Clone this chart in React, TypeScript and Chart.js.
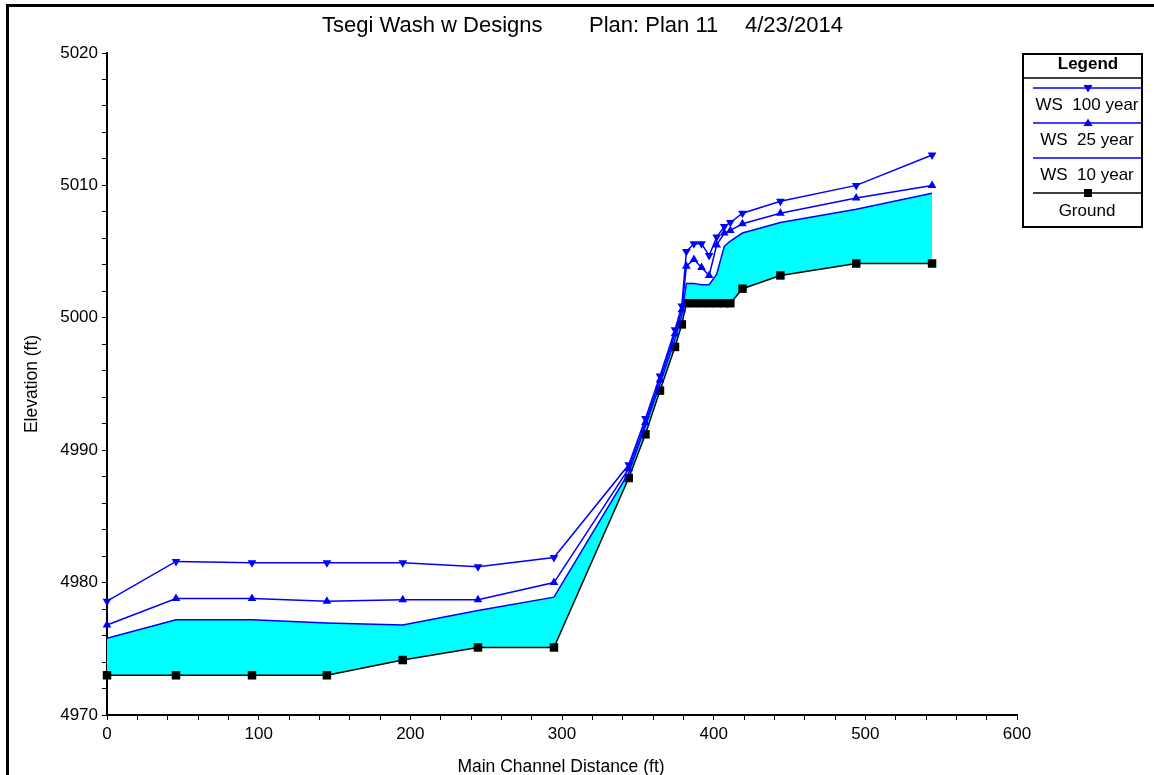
import React, { useEffect, useRef } from 'react';
import { Chart, registerables } from 'chart.js';

Chart.register(...registerables);

// Main channel distance (ft) of each cross-section
const distance = [0, 45.5, 95.6, 145, 195, 244.6, 294.7, 344, 355, 364.6, 374.5, 379, 382, 387, 392, 397, 402, 407, 411, 419, 444, 494, 544];
// Elevations (ft)
const ws100 = [4978.6, 4981.6, 4981.5, 4981.5, 4981.5, 4981.2, 4981.9, 4988.9, 4992.4, 4995.6, 4999.1, 5000.9, 5005.0, 5005.6, 5005.6, 5004.7, 5006.1, 5006.9, 5007.2, 5007.9, 5008.8, 5010.0, 5012.3];
const ws25 = [4976.8, 4978.8, 4978.8, 4978.6, 4978.7, 4978.7, 4980.0, 4988.6, 4992.1, 4995.3, 4998.8, 5000.6, 5003.9, 5004.4, 5003.8, 5003.2, 5005.5, 5006.4, 5006.6, 5007.1, 5007.9, 5009.05, 5010.0];
const ws10 = [4975.8, 4977.2, 4977.2, 4976.95, 4976.8, 4977.9, 4978.9, 4988.3, 4991.8, 4995.0, 4998.4, 5000.2, 5002.6, 5002.6, 5002.5, 5002.5, 5003.3, 5005.4, 5005.8, 5006.4, 5007.2, 5008.2, 5009.4];
const ground = [4973.0, 4973.0, 4973.0, 4973.0, 4974.15, 4975.1, 4975.1, 4987.9, 4991.2, 4994.5, 4997.8, 4999.5, 5001.1, 5001.1, 5001.1, 5001.1, 5001.1, 5001.1, 5001.1, 5002.2, 5003.2, 5004.1, 5004.1];

const titleParts = ['Tsegi Wash w Designs', 'Plan: Plan 11', '4/23/2014'];
const xTitle = 'Main Channel Distance (ft)';
const yTitle = 'Elevation (ft)';
const legendTitle = 'Legend';
const seriesLabels = ['WS  100 year', 'WS  25 year', 'WS  10 year', 'Ground'];

const FONT = '"Liberation Sans", Arial, sans-serif';
const BLUE = '#0000ff';
const CYAN = '#00ffff';

const decor = {
  id: 'decor',
  afterDraw(chart: any) {
    const ctx: CanvasRenderingContext2D = chart.ctx;
    ctx.save();
    // window frame
    ctx.fillStyle = '#000';
    ctx.fillRect(6, 4, 1160, 3);
    ctx.fillRect(6, 4, 3, 780);

    // title
    ctx.fillStyle = '#000';
    ctx.textBaseline = 'middle';
    ctx.textAlign = 'left';
    ctx.font = '22px ' + FONT;
    ctx.fillText(titleParts[0], 322, 26);
    ctx.fillText(titleParts[1], 589, 26);
    ctx.fillText(titleParts[2], 745, 26);

    // axis titles
    ctx.font = '17.5px ' + FONT;
    ctx.textAlign = 'center';
    ctx.fillText(xTitle, 561, 767);
    ctx.save();
    ctx.translate(32, 384);
    ctx.rotate(-Math.PI / 2);
    ctx.fillText(yTitle, 0, 0);
    ctx.restore();

    // legend box
    const L = 1023, R = 1142, T = 54, B = 227;
    ctx.strokeStyle = '#000';
    ctx.lineWidth = 2;
    ctx.strokeRect(L, T, R - L, B - T);
    ctx.lineWidth = 1.5;
    ctx.beginPath();
    ctx.moveTo(L, 78);
    ctx.lineTo(R, 78);
    ctx.stroke();
    ctx.font = 'bold 17px ' + FONT;
    ctx.fillText(legendTitle, 1088, 64);

    const entries = [
      { color: BLUE, marker: 'down', lineY: 88, textY: 105 },
      { color: BLUE, marker: 'up', lineY: 123, textY: 140 },
      { color: BLUE, marker: 'none', lineY: 158, textY: 175 },
      { color: '#000', marker: 'square', lineY: 193, textY: 211 },
    ];
    ctx.font = '17px ' + FONT;
    entries.forEach((e, i) => {
      ctx.strokeStyle = e.color;
      ctx.fillStyle = e.color;
      ctx.lineWidth = 1.5;
      ctx.beginPath();
      ctx.moveTo(1033, e.lineY);
      ctx.lineTo(1141, e.lineY);
      ctx.stroke();
      const mx = 1088, my = e.lineY;
      if (e.marker === 'down') {
        ctx.beginPath();
        ctx.moveTo(mx - 4.5, my - 3);
        ctx.lineTo(mx + 4.5, my - 3);
        ctx.lineTo(mx, my + 4.5);
        ctx.closePath();
        ctx.fill();
      } else if (e.marker === 'up') {
        ctx.beginPath();
        ctx.moveTo(mx - 4.5, my + 3);
        ctx.lineTo(mx + 4.5, my + 3);
        ctx.lineTo(mx, my - 4.5);
        ctx.closePath();
        ctx.fill();
      } else if (e.marker === 'square') {
        ctx.fillRect(mx - 4, my - 4, 8, 8);
      }
      ctx.fillStyle = '#000';
      ctx.fillText(seriesLabels[i], 1087, e.textY);
    });
    ctx.restore();
  },
};

export default function App() {
  const ref = useRef<HTMLCanvasElement | null>(null);

  useEffect(() => {
    if (!ref.current) return;
    const pts = (ys: number[]) => distance.map((x, i) => ({ x, y: ys[i] }));
    const tickFont = { family: FONT, size: 17 };
    const chart = new Chart(ref.current, {
      type: 'line',
      data: {
        datasets: [
          {
            label: seriesLabels[0],
            data: pts(ws100),
            borderColor: BLUE,
            backgroundColor: BLUE,
            borderWidth: 1.5,
            pointStyle: 'triangle',
            rotation: 180,
            pointRadius: 5,
            pointBorderWidth: 0,
            fill: false,
            clip: false,
          },
          {
            label: seriesLabels[1],
            data: pts(ws25),
            borderColor: BLUE,
            backgroundColor: BLUE,
            borderWidth: 1.5,
            pointStyle: 'triangle',
            pointRadius: 5,
            pointBorderWidth: 0,
            fill: false,
            clip: false,
          },
          {
            label: seriesLabels[2],
            data: pts(ws10),
            borderColor: BLUE,
            backgroundColor: CYAN,
            borderWidth: 1.5,
            pointRadius: 0,
            fill: '+1',
            clip: false,
          },
          {
            label: seriesLabels[3],
            data: pts(ground),
            borderColor: '#000',
            backgroundColor: '#000',
            borderWidth: 1.5,
            pointStyle: 'rect',
            pointRadius: 6,
            pointBorderWidth: 0,
            fill: false,
            clip: false,
          },
        ] as any,
      },
      options: {
        responsive: false,
        animation: false,
        events: [],
        layout: { padding: { left: 0, right: 137, top: 53, bottom: 0 } },
        elements: { line: { tension: 0 } },
        plugins: {
          legend: { display: false },
          title: { display: false },
          tooltip: { enabled: false },
          filler: { drawTime: 'beforeDatasetsDraw' },
        } as any,
        scales: {
          x: {
            type: 'linear',
            min: 0,
            max: 600,
            afterFit: (s: any) => { s.height = 60; },
            ticks: {
              stepSize: 20,
              autoSkip: false,
              maxRotation: 0,
              padding: 4,
              color: '#000',
              font: tickFont,
              callback: (v: any) => (Math.round(v) % 100 === 0 ? String(Math.round(v)) : ''),
            },
            grid: { display: true, drawOnChartArea: false, drawTicks: true, tickLength: 5, color: '#000', lineWidth: 1 },
            border: { display: true, color: '#000', width: 2 },
          },
          y: {
            type: 'linear',
            min: 4970,
            max: 5020,
            afterFit: (s: any) => { s.width = 107; },
            ticks: {
              stepSize: 2,
              autoSkip: false,
              padding: 4,
              color: '#000',
              font: tickFont,
              callback: (v: any) => (Math.round(v) % 10 === 0 ? String(Math.round(v)) : ''),
            },
            grid: { display: true, drawOnChartArea: false, drawTicks: true, tickLength: 5, color: '#000', lineWidth: 1 },
            border: { display: true, color: '#000', width: 2 },
          },
        },
      } as any,
      plugins: [decor],
    });
    return () => chart.destroy();
  }, []);

  return (
    <canvas
      ref={ref}
      width={1154}
      height={775}
      style={{ position: 'fixed', left: 0, top: 0, width: 1154, height: 775, background: '#fff' }}
    />
  );
}
